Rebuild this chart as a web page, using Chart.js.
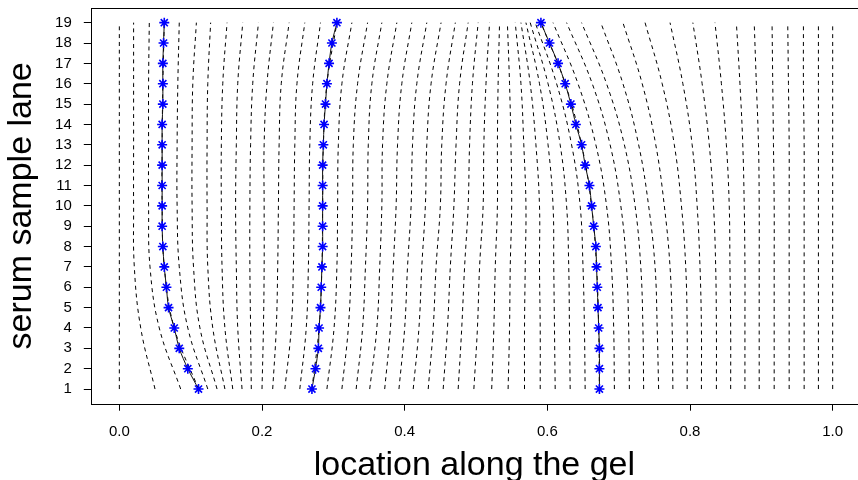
<!DOCTYPE html>
<html>
<head>
<meta charset="utf-8">
<script src="https://cdn.jsdelivr.net/npm/chart.js@4/dist/chart.umd.min.js"></script>
<style>
  html, body { margin: 0; padding: 0; background: #fff; overflow: hidden; }
  #wrap { width: 858px; height: 480px; }
</style>
</head>
<body>
<div id="wrap"><canvas id="c" width="858" height="480"></canvas></div>
<script>
// ---- data ----
const lanes = [1,2,3,4,5,6,7,8,9,10,11,12,13,14,15,16,17,18,19];
const band1X = [0.111,0.096,0.084,0.077,0.069,0.066,0.063,0.061,0.060,0.060,0.060,0.060,0.060,0.060,0.061,0.061,0.061,0.062,0.063];
const band2X = [0.270,0.275,0.279,0.280,0.282,0.283,0.284,0.285,0.285,0.285,0.285,0.285,0.286,0.287,0.289,0.291,0.294,0.298,0.305];
const band3X = [0.673,0.673,0.673,0.672,0.671,0.670,0.669,0.668,0.665,0.662,0.659,0.653,0.648,0.640,0.633,0.625,0.615,0.603,0.591];

// dashed warping grid: x-position of each of the 50 grid lines at selected lanes
const gridLanes = [1,4,7,10,13,16,19];
const gridLane1 = [0.000,0.050,0.086,0.111,0.124,0.137,0.148,0.159,0.172,0.185,0.200,0.215,0.232,0.253,0.270,0.291,0.312,0.332,0.351,0.372,0.392,0.412,0.433,0.454,0.475,0.497,0.522,0.545,0.568,0.590,0.611,0.632,0.653,0.673,0.694,0.715,0.735,0.756,0.776,0.796,0.816,0.837,0.857,0.877,0.897,0.918,0.939,0.960,0.980,1.000];
const gridLane4 = [0.000,0.030,0.056,0.077,0.096,0.113,0.131,0.148,0.166,0.184,0.202,0.220,0.241,0.262,0.280,0.301,0.321,0.341,0.361,0.380,0.400,0.420,0.440,0.460,0.480,0.502,0.525,0.547,0.568,0.590,0.610,0.631,0.652,0.672,0.693,0.714,0.734,0.754,0.775,0.796,0.816,0.837,0.857,0.877,0.897,0.918,0.939,0.960,0.980,1.000];
const gridLane7 = [0.000,0.021,0.043,0.063,0.084,0.104,0.124,0.144,0.164,0.183,0.203,0.222,0.244,0.265,0.284,0.305,0.325,0.345,0.365,0.384,0.404,0.424,0.444,0.464,0.484,0.505,0.527,0.548,0.569,0.589,0.609,0.630,0.650,0.669,0.690,0.711,0.731,0.751,0.772,0.794,0.814,0.836,0.856,0.877,0.897,0.918,0.939,0.960,0.980,1.000];
const gridLane10 = [0.000,0.020,0.041,0.060,0.081,0.102,0.123,0.143,0.163,0.183,0.203,0.223,0.245,0.266,0.285,0.306,0.327,0.348,0.368,0.388,0.409,0.429,0.450,0.469,0.489,0.510,0.530,0.550,0.570,0.589,0.608,0.627,0.646,0.662,0.683,0.703,0.723,0.742,0.764,0.788,0.810,0.833,0.855,0.876,0.897,0.918,0.939,0.960,0.980,1.000];
const gridLane13 = [0.000,0.020,0.041,0.060,0.081,0.102,0.123,0.143,0.164,0.184,0.203,0.224,0.246,0.267,0.286,0.307,0.328,0.349,0.369,0.390,0.411,0.431,0.452,0.472,0.491,0.511,0.530,0.549,0.567,0.584,0.601,0.618,0.634,0.648,0.668,0.688,0.708,0.728,0.752,0.778,0.803,0.827,0.851,0.874,0.896,0.917,0.939,0.960,0.980,1.000];
const gridLane16 = [0.000,0.020,0.041,0.061,0.082,0.103,0.124,0.145,0.166,0.187,0.207,0.227,0.249,0.271,0.291,0.312,0.334,0.354,0.375,0.396,0.417,0.437,0.458,0.477,0.495,0.514,0.531,0.547,0.563,0.576,0.589,0.601,0.613,0.625,0.643,0.663,0.683,0.706,0.733,0.761,0.790,0.817,0.844,0.870,0.893,0.916,0.938,0.959,0.980,1.000];
const gridLane19 = [0.000,0.020,0.042,0.063,0.084,0.108,0.128,0.151,0.173,0.195,0.216,0.238,0.260,0.282,0.305,0.326,0.348,0.368,0.389,0.410,0.431,0.451,0.471,0.489,0.503,0.519,0.533,0.544,0.555,0.563,0.570,0.576,0.583,0.591,0.608,0.627,0.648,0.675,0.706,0.737,0.772,0.804,0.835,0.865,0.890,0.915,0.937,0.959,0.980,1.000];

const xTicks = [0.0,0.2,0.4,0.6,0.8,1.0];
const yTicks = lanes;
const xTitle = 'location along the gel';
const yTitle = 'serum sample lane';

// ---- build datasets ----
const gridRows = [gridLane1, gridLane4, gridLane7, gridLane10, gridLane13, gridLane16, gridLane19];
const FONT = '"Liberation Sans", Arial, Helvetica, sans-serif';

const bandDatasets = [band1X, band2X, band3X].map(bx => ({
  data: lanes.map((ln, i) => ({ x: bx[i], y: ln })),
  showLine: true,
  borderColor: '#111',
  borderWidth: 1,
  tension: 0.3,
  pointStyle: 'star',
  pointRadius: 5,
  pointBorderColor: '#0000ff',
  pointBackgroundColor: '#0000ff',
  pointBorderWidth: 1.6
}));

const gridDatasets = gridLane1.map((_, j) => ({
  data: gridLanes.map((ln, i) => ({ x: gridRows[i][j], y: ln })),
  showLine: true,
  borderColor: '#000',
  borderWidth: 1,
  borderDash: [4, 3.8],
  tension: 0.4,
  pointRadius: 0
}));

const boxPlugin = {
  id: 'box',
  afterDraw(chart) {
    const { ctx, chartArea: a } = chart;
    ctx.save();
    ctx.strokeStyle = '#000';
    ctx.lineWidth = 1;
    ctx.strokeRect(Math.round(a.left) + 0.5, Math.round(a.top) + 0.5, Math.round(a.right - a.left) + 1, Math.round(a.bottom - a.top));
    ctx.restore();
  }
};

new Chart(document.getElementById('c'), {
  type: 'scatter',
  data: { datasets: [...bandDatasets, ...gridDatasets] },
  options: {
    responsive: false,
    animation: false,
    events: [],
    layout: { autoPadding: false, padding: { top: 8, right: 0, left: 0, bottom: 0 } },
    plugins: { legend: { display: false }, tooltip: { enabled: false } },
    scales: {
      x: {
        type: 'linear',
        min: -0.04, max: 1.0355,
        afterBuildTicks: axis => { axis.ticks = xTicks.map(v => ({ value: v })); },
        afterFit: axis => { axis.height = 76.3; axis.paddingLeft = 0; axis.paddingRight = 0; axis.paddingTop = 0; axis.paddingBottom = 0; },
        ticks: { callback: v => Number(v).toFixed(1), font: { family: FONT, size: 15 }, color: '#000', padding: 12, maxRotation: 0, autoSkip: false },
        grid: { display: true, drawOnChartArea: false, drawTicks: true, tickLength: 7, color: '#000', lineWidth: 1 },
        border: { display: false },
        title: { display: true, text: xTitle, color: '#000', font: { family: FONT, size: 34, lineHeight: 1 }, padding: { top: 0, bottom: -3 } }
      },
      y: {
        type: 'linear',
        min: 0.28, max: 19.72,
        afterBuildTicks: axis => { axis.ticks = yTicks.map(v => ({ value: v })); },
        afterFit: axis => { axis.width = 90.8; axis.paddingLeft = 0; axis.paddingRight = 0; axis.paddingTop = 0; axis.paddingBottom = 0; },
        ticks: { font: { family: FONT, size: 15 }, color: '#000', padding: 12, autoSkip: false },
        grid: { display: true, drawOnChartArea: false, drawTicks: true, tickLength: 7, color: '#000', lineWidth: 1 },
        border: { display: false },
        title: { display: true, text: yTitle, color: '#000', font: { family: FONT, size: 34, lineHeight: 1 }, padding: { top: 5, bottom: 0 } }
      }
    }
  },
  plugins: [boxPlugin]
});
</script>
</body>
</html>
